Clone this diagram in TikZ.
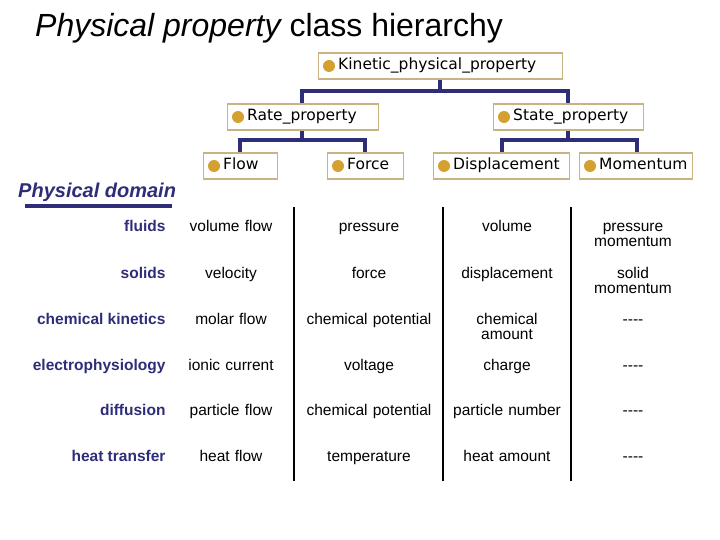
\documentclass[tikz,border=0pt]{standalone}
\usepackage{fontspec}
\setmainfont{Liberation Sans}
\newfontfamily\boxfont{DejaVu Sans}
\definecolor{navy}{RGB}{45,45,120}
\definecolor{tan}{RGB}{200,180,130}
\definecolor{gold}{RGB}{212,160,48}
\begin{document}
\begin{tikzpicture}[x=1pt,y=-1pt]
\useasboundingbox (0,0) rectangle (720,540);
\tikzset{cls/.style={draw=tan,line width=1.1pt,minimum height=26pt,inner xsep=0pt,anchor=west},
link/.style={draw=navy,line width=3.8pt},
dom/.style={font=\bfseries\fontsize{15.5}{17}\selectfont,text=navy,anchor=east,text height=11pt,text depth=3pt},
cell/.style={font=\fontsize{15.5}{15}\selectfont,align=center,text width=130pt,inner sep=0pt,text height=11pt,text depth=3pt}}
\newcommand{\cls}[5]{\node[cls,minimum width=#3pt] (#1) at (#2,#4) {};
\fill[gold] ([xshift=11pt]#1.west) circle (6pt);
\node[anchor=west,font=\boxfont\fontsize{15.5}{17}\selectfont,inner sep=0pt,text height=11.5pt,text depth=3.5pt] at ([xshift=20pt]#1.west) {#5};}
\node[anchor=west,font=\itshape\fontsize{32}{36}\selectfont,inner sep=0pt] (title) at (35,28) {Physical property \upshape class hierarchy};
\cls{kin}{318}{244}{66}{Kinetic\_physical\_property}
\cls{rate}{227}{151}{117}{Rate\_property}
\cls{state}{493}{150}{117}{State\_property}
\cls{flow}{203}{74}{166}{Flow}
\cls{force}{327}{76}{166}{Force}
\cls{disp}{433}{136}{166}{Displacement}
\cls{mom}{579}{113}{166}{Momentum}
\coordinate (k1) at (440,91); \coordinate (r1) at (302,140); \coordinate (s1) at (568,140);
\draw[link] (kin.south -| k1) -- (k1);
\draw[link] (rate.north -| r1) |- (k1) -| (state.north -| s1);
\draw[link] (rate.south -| r1) -- (r1);
\draw[link] (flow.north -| 240,0) |- (r1) -| (force.north -| 365,0);
\draw[link] (state.south -| s1) -- (s1);
\draw[link] (disp.north -| 502,0) |- (s1) -| (mom.north -| 637,0);
\node[anchor=west,inner sep=0pt,font=\bfseries\itshape\fontsize{20}{22}\selectfont,text=navy] (pd) at (18,192) {Physical domain};
\draw[navy,line width=3.5pt] (25,206) -- (172,206);
\foreach \x/\n in {294/a,443/b,571/c}{\coordinate (t\n) at (\x,207); \coordinate (u\n) at (\x,481); \draw[line width=2.4pt] (t\n) -- (u\n);}
\foreach \y/\d/\a/\b/\c/\e in {
228/fluids/volume flow/pressure/volume/pressure\\momentum,
274/solids/velocity/force/displacement/solid\\momentum,
320/chemical kinetics/molar flow/chemical potential/chemical\\amount/{-}{-}{-}{-},
366/electrophysiology/ionic current/voltage/charge/{-}{-}{-}{-},
411/diffusion/particle flow/chemical potential/particle number/{-}{-}{-}{-},
457/heat transfer/heat flow/temperature/heat amount/{-}{-}{-}{-}}{
\node[dom] at (169,\y) {\d};
\node[cell] at (231,\y) {\a};
\node[cell] at (369,\y) {\b};
\node[cell] at (507,\y) {\c};
\node[cell] at (633,\y) {\e};}
\end{tikzpicture}
\end{document}
